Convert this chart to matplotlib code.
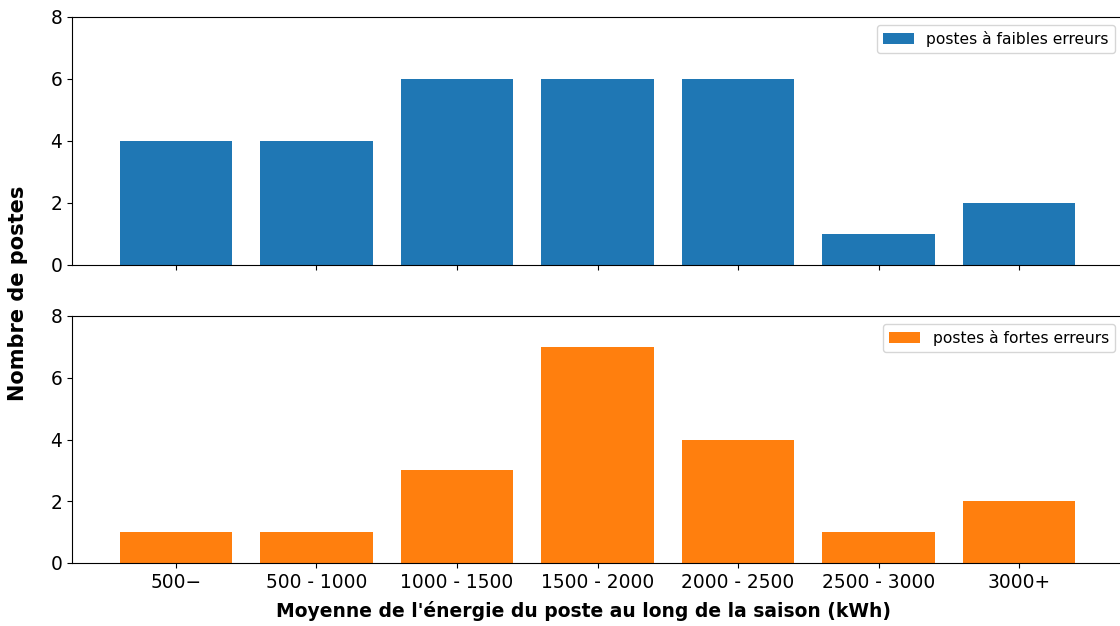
import matplotlib
matplotlib.use("Agg")
import matplotlib.pyplot as plt

categories = ["500−", "500 - 1000", "1000 - 1500", "1500 - 2000", "2000 - 2500", "2500 - 3000", "3000+"]
faibles = [4, 4, 6, 6, 6, 1, 2]
fortes = [1, 1, 3, 7, 4, 1, 2]

W, H = 1120, 626
fig = plt.figure(figsize=(W / 100, H / 100), dpi=100)

def ax_rect(l, t, r, b):
    return [l / W, 1 - b / H, (r - l) / W, (b - t) / H]

ax1 = fig.add_axes(ax_rect(72, 17, 1123, 265))
ax2 = fig.add_axes(ax_rect(72, 316, 1123, 563), sharex=ax1)

x = range(len(categories))
ax1.bar(x, faibles, color="#1f77b4", label="postes à faibles erreurs")
ax2.bar(x, fortes, color="#ff7f0e", label="postes à fortes erreurs")

for ax in (ax1, ax2):
    ax.set_ylim(0, 8)
    ax.set_yticks([0, 2, 4, 6, 8])
    ax.tick_params(axis="both", labelsize=13.4)
    ax.legend(loc="upper right", fontsize=11.2)

ax2.set_xticks(list(x))
ax2.set_xticklabels(categories)
plt.setp(ax1.get_xticklabels(), visible=False)

fig.text(584 / W, 1 - 611 / H, "Moyenne de l'énergie du poste au long de la saison (kWh)",
         ha="center", va="center", fontsize=13.5, fontweight="bold")
fig.text(18 / W, 1 - 293 / H, "Nombre de postes", rotation=90,
         ha="center", va="center", fontsize=15, fontweight="bold")

fig.savefig("out.png", dpi=100)
